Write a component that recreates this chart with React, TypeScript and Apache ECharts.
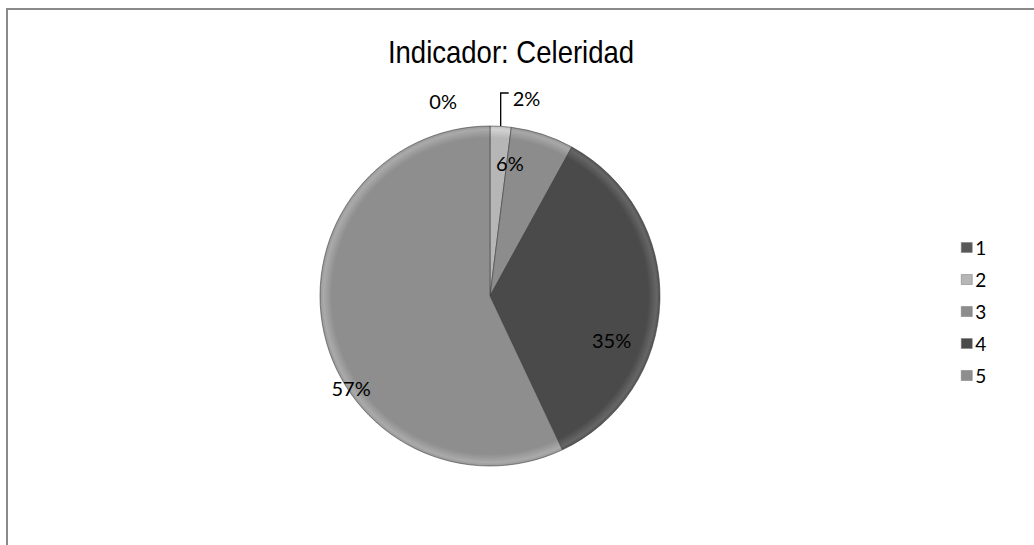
import React, { useEffect, useRef } from "react";
import * as echarts from "echarts";

const categories = ["1", "2", "3", "4", "5"];
const values = [0, 2, 6, 35, 57];
const colors = ["#585858", "#b6b6b6", "#8c8c8c", "#4a4a4a", "#8e8e8e"];
const titleText = "Indicador: Celeridad";

// layout constants (not data)
const CX = 490;
const CY = 296;
const R = 170;
// label placement (polar: angle from top clockwise in degrees, distance as fraction of R)
const labelAngle = [-13.5, 0, 8.5, 109.8, 236.5];
const labelDist = [1.18, 0, 0.79, 0.76, 0.98];

function lighten(hex: string, amt: number) {
  const n = parseInt(hex.slice(1), 16);
  const r = Math.min(255, ((n >> 16) & 255) + amt);
  const g = Math.min(255, ((n >> 8) & 255) + amt);
  const b = Math.min(255, (n & 255) + amt);
  return `rgb(${r},${g},${b})`;
}

export default function App() {
  const ref = useRef<HTMLDivElement>(null);
  useEffect(() => {
    document.body.style.margin = "0";
    const chart = echarts.init(ref.current!, null, { renderer: "svg" });
    const total = values.reduce((a, b) => a + b, 0);
    const mids: number[] = [];
    let acc = 0;
    values.forEach((v) => {
      mids.push(((acc + v / 2) / total) * Math.PI * 2);
      acc += v;
    });

    const mainData = categories.map((c, i) => ({
      name: c,
      value: values[i],
      itemStyle: {
        color: {
          type: "radial",
          x: CX,
          y: CY,
          r: R,
          global: true,
          colorStops: [
            { offset: 0, color: colors[i] },
            { offset: 0.93, color: colors[i] },
            { offset: 0.98, color: lighten(colors[i], 28) },
            { offset: 1, color: lighten(colors[i], 8) },
          ],
        },
      },
      label: { show: true, position: i === 1 ? "outside" : "inside" },
      labelLine: { show: i === 1 },
    }));

    chart.setOption({
      animation: false,
      backgroundColor: "#ffffff",
      legend: {
        orient: "vertical",
        left: 956,
        top: 233,
        itemWidth: 11,
        itemHeight: 10,
        itemGap: 13,
        icon: "rect",
        data: categories.map((c, i) => ({
          name: c,
          itemStyle: { color: colors[i], borderColor: "#777", borderWidth: 0.5 },
        })),
        textStyle: {
          fontFamily: "Lato, 'Noto Sans', sans-serif",
          fontSize: 19,
          lineHeight: 19,
          color: "#000",
          padding: [0, 0, 0, -2],
        },
        selectedMode: false,
      },
      graphic: [
        {
          type: "rect",
          shape: { x: 7, y: 9, width: 1100, height: 600 },
          style: { fill: "none", stroke: "#8a8a8a", lineWidth: 2 },
          silent: true,
        },
        {
          type: "text",
          x: 511,
          y: 52,
          scaleX: 0.86,
          style: {
            text: titleText,
            fontFamily: "'Liberation Sans', Arial, sans-serif",
            fontSize: 32,
            fill: "#000",
            align: "center",
            verticalAlign: "middle",
          },
          silent: true,
        },
      ],
      series: [
        {
          type: "pie",
          center: [CX, CY],
          radius: [0, R],
          startAngle: 90,
          clockwise: true,
          silent: true,
          percentPrecision: 0,
          data: mainData,
          itemStyle: { borderColor: "rgba(55,55,55,0.55)", borderWidth: 1 },
          label: {
            formatter: "{d}%",
            fontFamily: "Lato, 'Noto Sans', sans-serif",
            fontSize: 20,
            color: "#000",
          },
          labelLine: { lineStyle: { color: "#000", width: 1.3 } },
          labelLayout: (p: any) => {
            const i = p.dataIndex;
            if (i === 1) {
              const sx = CX + R * Math.sin(mids[1]);
              const sy = CY - R * Math.cos(mids[1]);
              const ty = CY - R - 33;
              return {
                x: sx + 12,
                y: CY - R - 28,
                align: "left",
                verticalAlign: "middle",
                labelLinePoints: [
                  [sx, sy],
                  [sx, ty],
                  [sx + 8, ty],
                ],
              };
            }
            const a = (labelAngle[i] * Math.PI) / 180;
            return {
              x: CX + R * labelDist[i] * Math.sin(a),
              y: CY - R * labelDist[i] * Math.cos(a),
              align: "center",
              verticalAlign: "middle",
            };
          },
        },
      ],
    });
    return () => chart.dispose();
  }, []);
  return (
    <div
      ref={ref}
      style={{ position: "absolute", left: 0, top: 0, width: 1034, height: 545 }}
    />
  );
}
